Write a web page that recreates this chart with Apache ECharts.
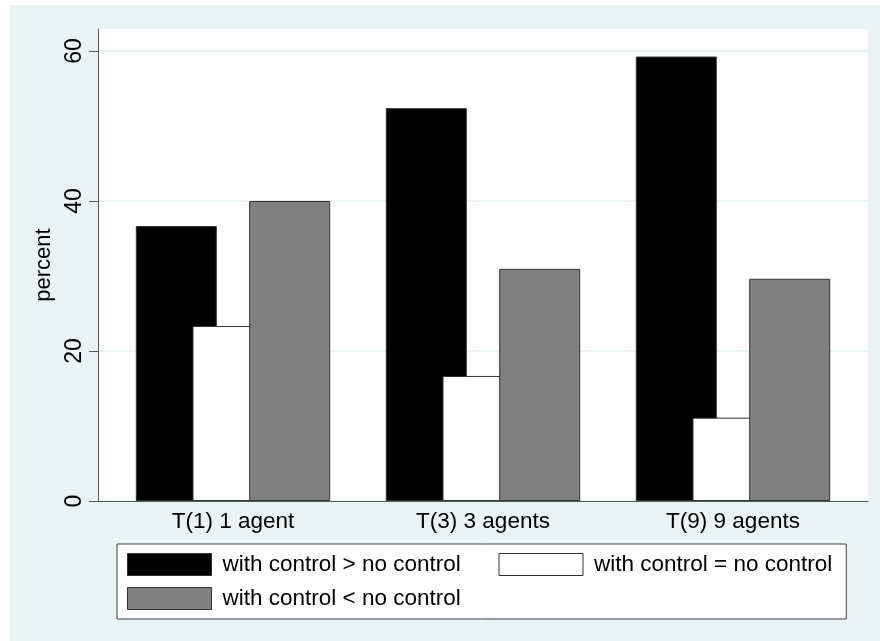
<!DOCTYPE html>
<html>
<head>
<meta charset="utf-8">
<script src="https://cdn.jsdelivr.net/npm/echarts@6/dist/echarts.min.js"></script>
<style>
  html, body { margin: 0; padding: 0; background: #ffffff; }
  #wrap { position: relative; width: 880px; height: 641px; background: #ffffff; overflow: hidden; }
  #chart { position: absolute; left: 10px; top: 5px; width: 870px; height: 636px; }
</style>
</head>
<body>
<div id="wrap"><div id="chart"></div></div>
<script>
const categories = ['T(1) 1 agent', 'T(3) 3 agents', 'T(9) 9 agents'];
const seriesNames = ['with control > no control', 'with control = no control', 'with control < no control'];
const greater = [36.67, 52.38, 59.26];
const equal = [23.33, 16.67, 11.11];
const less = [40.0, 30.95, 29.63];
const yTicks = [0, 20, 40, 60];

const FONT = '"Liberation Sans", Arial, Helvetica, sans-serif';
const seriesValues = [greater, equal, less];
const seriesColors = ['#000000', '#ffffff', '#808080'];

const chart = echarts.init(document.getElementById('chart'), null, { renderer: 'canvas' });

const option = {
  backgroundColor: '#eaf2f3',
  animation: false,
  textStyle: { fontFamily: FONT },
  grid: {
    left: 88, top: 24, width: 770, height: 472,
    show: true, backgroundColor: '#ffffff', borderWidth: 0
  },
  xAxis: {
    type: 'value',
    min: -0.54, max: 2.54,
    axisLine: { show: true, onZero: false, lineStyle: { color: '#5a5a5a', width: 1 } },
    axisTick: { show: false },
    splitLine: { show: false },
    axisLabel: {
      customValues: [0, 1, 2],
      formatter: v => categories[Math.round(v)],
      fontSize: 22.5, color: '#000000', fontFamily: FONT, margin: 9
    }
  },
  yAxis: {
    type: 'value',
    min: 0, max: 62.93,
    interval: 20,
    name: 'percent',
    nameLocation: 'middle',
    nameRotate: 90,
    nameGap: 43,
    nameTextStyle: { fontSize: 22, color: '#000000', fontFamily: FONT },
    axisLine: { show: true, onZero: false, lineStyle: { color: '#5a5a5a', width: 1 } },
    axisTick: { show: true, length: 9, customValues: yTicks, lineStyle: { color: '#5a5a5a' } },
    splitLine: { show: true, lineStyle: { color: '#e6eff1', width: 1.5 } },
    axisLabel: {
      customValues: yTicks,
      rotate: 90, fontSize: 23, color: '#000000', fontFamily: FONT, margin: 12
    }
  },
  legend: {
    left: 107, top: 539,
    width: 740,
    orient: 'horizontal',
    backgroundColor: '#ffffff',
    borderColor: '#404040', borderWidth: 1,
    padding: [9, 14, 9, 10],
    itemWidth: 84, itemHeight: 22, itemGap: 11,
    icon: 'rect',
    itemStyle: { borderColor: '#333333', borderWidth: 1 },
    textStyle: { fontSize: 22.5, color: '#000000', fontFamily: FONT, lineHeight: 22, padding: [0, 0, 0, 6] },
    data: [
      { name: seriesNames[0], textStyle: { width: 265 } },
      { name: seriesNames[1] },
      { name: seriesNames[2] }
    ]
  },
  series: seriesNames.map((name, s) => ({
    name: name,
    type: 'bar',
    barWidth: 81,
    barGap: '-30%',
    itemStyle: { color: seriesColors[s], borderColor: '#333333', borderWidth: 1 },
    data: seriesValues[s].map((v, i) => [i, v])
  }))
};

chart.setOption(option);
</script>
</body>
</html>
